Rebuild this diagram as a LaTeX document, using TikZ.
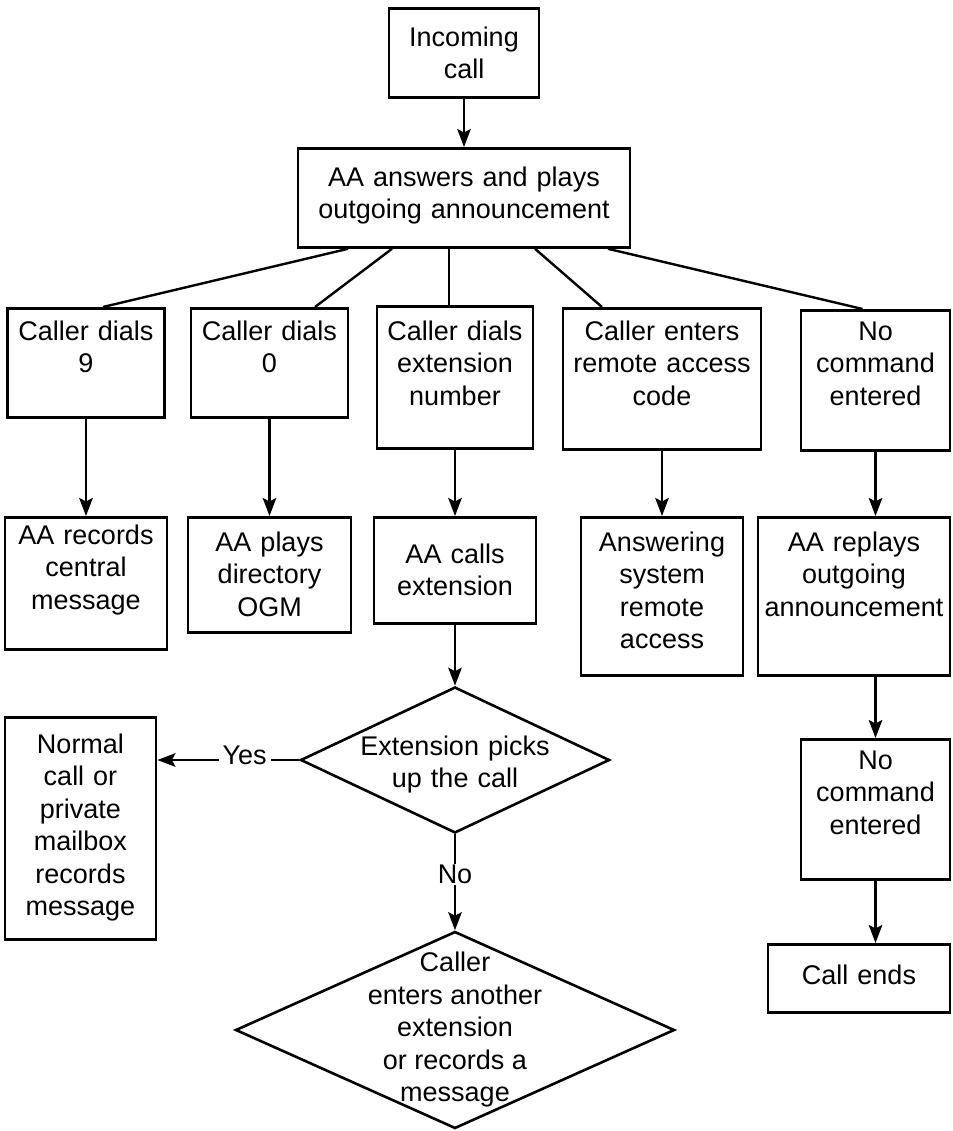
\documentclass[tikz,border=0pt]{standalone}
\usepackage{fontspec}
\setmainfont{Liberation Sans}
\usetikzlibrary{arrows.meta,shapes.geometric}
\tikzset{
	diagram/.style={x=1pt, y=-1pt, font=\fontsize{27}{32.5}\selectfont, line width=2.4pt,
	                >={Stealth[length=18pt,width=13.5pt,inset=3.5pt]}},
	blok/.style={draw, line width=2.8pt, fill=white, align=center, inner sep=0pt, anchor=north},
	odlocitev/.style={draw, diamond, line width=2.6pt, fill=white, align=center, inner sep=0pt},
	tok/.style={->},
	vez/.style={-},
	oznaka/.style={fill=white, inner xsep=4pt, inner ysep=1pt},
}

\begin{document}
\begin{tikzpicture}[diagram]
\useasboundingbox (0,0) rectangle (952,1131);

% ---------- vozlisca ----------
\node[blok, text width=150pt, text height=38pt, text depth=51pt] (klic) at (464,7) {Incoming\\call};
\node[blok, text width=332pt, text height=38pt, text depth=61pt] (odziv) at (464,147)
    {AA answers and plays\\outgoing announcement};

\node[blok, text width=157pt, text height=32pt, text depth=77pt] (k1) at (86,307) {Caller dials\\9};
\node[blok, text width=157pt, text height=32pt, text depth=77pt] (k2) at (269.5,307) {Caller dials\\0};
\node[blok, text width=156pt, text height=34pt, text depth=108pt] (k3) at (455,305) {Caller dials\\extension\\number};
\node[blok, text width=198pt, text height=32pt, text depth=109pt] (k4) at (662,307) {Caller enters\\remote access\\code};
\node[blok, text width=149pt, text height=30pt, text depth=110pt] (k5) at (875.5,309) {No\\command\\entered};

\node[blok, text width=162pt, text height=27pt, text depth=105pt] (r1) at (86,516) {AA records\\central\\message};
\node[blok, text width=163pt, text height=34pt, text depth=81pt] (r2) at (269.5,516) {AA plays\\directory\\OGM};
\node[blok, text width=162pt, text height=46pt, text depth=60pt] (r3) at (455,516) {AA calls\\extension};
\node[blok, text width=162pt, text height=34pt, text depth=124pt] (r4) at (662,516) {Answering\\system\\remote\\access};
\node[blok, text width=192pt, text height=34pt, text depth=124pt] (r5) at (854,516) {AA replays\\outgoing\\announcement};

\node[odlocitev, aspect=2.1, text width=192pt, minimum width=309pt, minimum height=146pt,
      text height=12pt, text depth=22pt] (vpr1) at (455,760) {Extension picks\\up the call};
\node[blok, text width=151pt, text height=36pt, text depth=186pt] (zasebno) at (80.5,716)
    {Normal\\call or\\private\\mailbox\\records\\message};
\node[odlocitev, minimum width=439pt, minimum height=197pt,
      label={[align=center]center:Caller\\enters another\\extension\\or records a\\message}] (vpr2) at (455,1030) {};

\node[blok, text width=149pt, text height=30pt, text depth=110pt] (ukaz) at (875.5,738) {No\\command\\entered};
\node[blok, text width=182pt, text height=40pt, text depth=28pt] (konec) at (859,943) {Call ends};

% ---------- povezave ----------
\draw[tok] (klic.south) -- (odziv.north);

\draw[vez] ([xshift=-116pt]odziv.south) -- ([xshift=17pt]k1.north);
\draw[vez] ([xshift=-72pt]odziv.south) -- ([xshift=45.5pt]k2.north);
\draw[vez] ([xshift=-15pt]odziv.south) -- ([xshift=-6pt]k3.north);
\draw[vez] ([xshift=71pt]odziv.south) -- ([xshift=-60pt]k4.north);
\draw[vez] ([xshift=144pt]odziv.south) -- ([xshift=-13pt]k5.north);

\draw[tok] (k1.south) -- (r1.north);
\draw[tok] (k2.south) -- (r2.north);
\draw[tok] (k3.south) -- (r3.north);
\draw[tok] (k4.south) -- (r4.north);
\draw[tok] (k5.south) -- (k5.south |- r5.north);

\draw[tok] (r3.south) -- (vpr1.north);
\draw[tok] (vpr1.west) -- node[oznaka, pos=0.385, yshift=5pt] (da) {Yes} (vpr1.west -| zasebno.east);
\draw[tok] (vpr1.south) -- node[oznaka, pos=0.42] (ne) {No} (vpr2.north);

\draw[tok] (r5.south -| ukaz.north) -- (ukaz.north);
\draw[tok] (ukaz.south) -- (ukaz.south |- konec.north);

\end{tikzpicture}
\end{document}
